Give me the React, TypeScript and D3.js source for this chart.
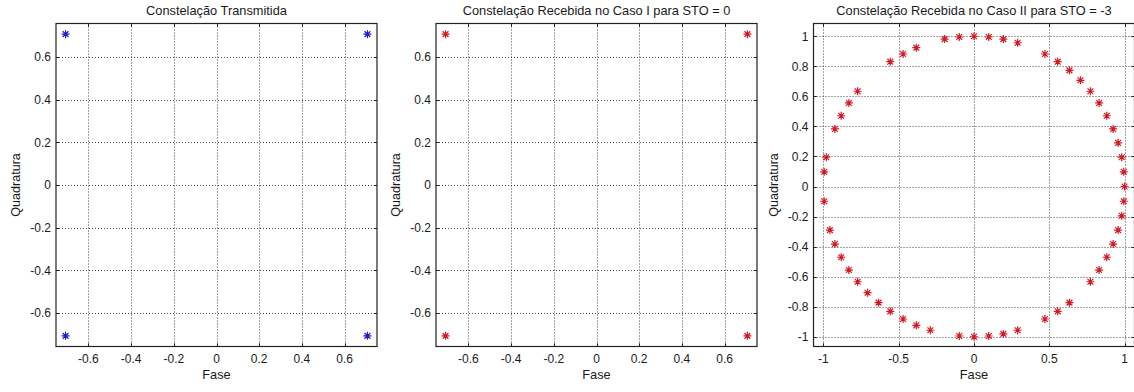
import React from "react";
import * as d3 from "d3";

// ---------- data ----------
const txFase = [-0.7071, 0.7071, -0.7071, 0.7071];
const txQuad = [0.7071, 0.7071, -0.7071, -0.7071];

const rx1Fase = [-0.7071, 0.7071, -0.7071, 0.7071];
const rx1Quad = [0.7071, 0.7071, -0.7071, -0.7071];

const rx2Fase = [
  // top arc
  -0.195, -0.098, 0, 0.098, 0.195, 0.29,
  // upper left
  -0.383, -0.471, -0.556, -0.773, -0.831, -0.882, -0.924, -0.981, -0.995,
  // upper right
  0.471, 0.556, 0.634, 0.707, 0.773, 0.831, 0.882, 0.924, 0.957, 0.981, 0.995, 1,
  // lower left
  -0.995, -0.957, -0.924, -0.882, -0.831, -0.773, -0.707, -0.634, -0.556, -0.471, -0.383, -0.29,
  // bottom arc
  -0.098, 0, 0.098, 0.195, 0.29,
  // lower right
  0.471, 0.556, 0.634, 0.773, 0.831, 0.882, 0.924, 0.957, 0.981, 0.995,
];
const rx2Quad = [
  0.981, 0.995, 1, 0.995, 0.981, 0.957,
  0.924, 0.882, 0.831, 0.634, 0.556, 0.471, 0.383, 0.195, 0.098,
  0.882, 0.831, 0.773, 0.707, 0.634, 0.556, 0.471, 0.383, 0.29, 0.195, 0.098, 0,
  -0.098, -0.29, -0.383, -0.471, -0.556, -0.634, -0.707, -0.773, -0.831, -0.882, -0.924, -0.957,
  -0.995, -1, -0.995, -0.981, -0.957,
  -0.882, -0.831, -0.773, -0.634, -0.556, -0.471, -0.383, -0.29, -0.195, -0.098,
];

const ticksA = [-0.6, -0.4, -0.2, 0, 0.2, 0.4, 0.6];
const ticksALabels = ["-0.6", "-0.4", "-0.2", "0", "0.2", "0.4", "0.6"];
const ticksBX = [-1, -0.5, 0, 0.5, 1];
const ticksBXLabels = ["-1", "-0.5", "0", "0.5", "1"];
const ticksBY = [-1, -0.8, -0.6, -0.4, -0.2, 0, 0.2, 0.4, 0.6, 0.8, 1];
const ticksBYLabels = ["-1", "-0.8", "-0.6", "-0.4", "-0.2", "0", "0.2", "0.4", "0.6", "0.8", "1"];

const titles = [
  "Constelação Transmitida",
  "Constelação Recebida no Caso I para STO = 0",
  "Constelação Recebida no Caso II para STO = -3",
];
const xLabel = "Fase";
const yLabel = "Quadratura";

// ---------- layout ----------
const W = 1134;
const H = 392;
const TOP = 23.5;
const BOTTOM = 346.5;
const FONT = "'Liberation Sans', Arial, Helvetica, sans-serif";
const BLUE = "#1f1fc8";
const RED = "#d11a24";

type PanelCfg = {
  left: number;
  right: number;
  xDomain: [number, number];
  yDomain: [number, number];
  xTicks: number[];
  xTickLabels: string[];
  yTicks: number[];
  yTickLabels: string[];
  xs: number[];
  ys: number[];
  color: string;
  title: string;
};

const panels: PanelCfg[] = [
  {
    left: 56, right: 377,
    xDomain: [-0.752, 0.752], yDomain: [-0.757, 0.757],
    xTicks: ticksA, xTickLabels: ticksALabels, yTicks: ticksA, yTickLabels: ticksALabels,
    xs: txFase, ys: txQuad, color: BLUE, title: titles[0],
  },
  {
    left: 436, right: 757,
    xDomain: [-0.752, 0.752], yDomain: [-0.757, 0.757],
    xTicks: ticksA, xTickLabels: ticksALabels, yTicks: ticksA, yTickLabels: ticksALabels,
    xs: rx1Fase, ys: rx1Quad, color: RED, title: titles[1],
  },
  {
    left: 813.5, right: 1134.5,
    xDomain: [-1.066, 1.066], yDomain: [-1.065, 1.085],
    xTicks: ticksBX, xTickLabels: ticksBXLabels, yTicks: ticksBY, yTickLabels: ticksBYLabels,
    xs: rx2Fase, ys: rx2Quad, color: RED, title: titles[2],
  },
];

function Star({ cx, cy, color }: { cx: number; cy: number; color: string }) {
  const r = 4;
  const d = 2.9;
  const p = `M${cx - r},${cy}H${cx + r}M${cx},${cy - r}V${cy + r}M${cx - d},${cy - d}L${cx + d},${cy + d}M${cx - d},${cy + d}L${cx + d},${cy - d}`;
  return <path d={p} stroke={color} strokeWidth={1.2} fill="none" />;
}

function Panel({ cfg }: { cfg: PanelCfg }) {
  const x = d3.scaleLinear().domain(cfg.xDomain).range([cfg.left, cfg.right]);
  const y = d3.scaleLinear().domain(cfg.yDomain).range([BOTTOM, TOP]);
  const tl = 3.2;
  const cxMid = (cfg.left + cfg.right) / 2;
  const cyMid = (TOP + BOTTOM) / 2;
  return (
    <g>
      {/* grid */}
      {cfg.xTicks.map((t, i) => (
        <line key={"gx" + i} x1={Math.round(x(t)) + 0.5} x2={Math.round(x(t)) + 0.5} y1={TOP} y2={BOTTOM}
          stroke="#444" strokeWidth={1} strokeDasharray="1 2" />
      ))}
      {cfg.yTicks.map((t, i) => (
        <line key={"gy" + i} y1={Math.round(y(t)) + 0.5} y2={Math.round(y(t)) + 0.5} x1={cfg.left} x2={cfg.right}
          stroke="#444" strokeWidth={1} strokeDasharray="1 2" />
      ))}
      {/* ticks */}
      {cfg.xTicks.map((t, i) => {
        const px = Math.round(x(t)) + 0.5;
        return (
          <g key={"tx" + i}>
            <line x1={px} x2={px} y1={BOTTOM} y2={BOTTOM - tl} stroke="#222" />
            <line x1={px} x2={px} y1={TOP} y2={TOP + tl} stroke="#222" />
            <text x={x(t)} y={363} textAnchor="middle" fontSize={12} fontFamily={FONT} fill="#1a1a1a">
              {cfg.xTickLabels[i]}
            </text>
          </g>
        );
      })}
      {cfg.yTicks.map((t, i) => {
        const py = Math.round(y(t)) + 0.5;
        return (
          <g key={"ty" + i}>
            <line x1={cfg.left} x2={cfg.left + tl} y1={py} y2={py} stroke="#222" />
            <line x1={cfg.right} x2={cfg.right - tl} y1={py} y2={py} stroke="#222" />
            <text x={cfg.left - 5} y={y(t) + 4.3} textAnchor="end" fontSize={12} fontFamily={FONT} fill="#1a1a1a">
              {cfg.yTickLabels[i]}
            </text>
          </g>
        );
      })}
      {/* box */}
      <rect x={cfg.left} y={TOP} width={cfg.right - cfg.left} height={BOTTOM - TOP}
        fill="none" stroke="#222" strokeWidth={1.2} />
      {/* data */}
      {cfg.xs.map((v, i) => (
        <Star key={"p" + i} cx={x(v)} cy={y(cfg.ys[i])} color={cfg.color} />
      ))}
      {/* labels */}
      <text x={cxMid} y={14.5} textAnchor="middle" fontSize={12.8} fontFamily={FONT} fill="#1a1a1a">
        {cfg.title}
      </text>
      <text x={cxMid} y={379} textAnchor="middle" fontSize={12.8} fontFamily={FONT} fill="#1a1a1a">
        {xLabel}
      </text>
      <text transform={`translate(${cfg.left - 36},${cyMid}) rotate(-90)`} textAnchor="middle"
        fontSize={12.6} fontFamily={FONT} fill="#1a1a1a">
        {yLabel}
      </text>
    </g>
  );
}

export default function App() {
  return (
    <svg width={W} height={H} style={{ position: "absolute", left: 0, top: 0, background: "#fff" }}
      xmlns="http://www.w3.org/2000/svg">
      <rect x={0} y={0} width={W} height={H} fill="#fff" />
      {panels.map((p, i) => (
        <Panel key={i} cfg={p} />
      ))}
    </svg>
  );
}
